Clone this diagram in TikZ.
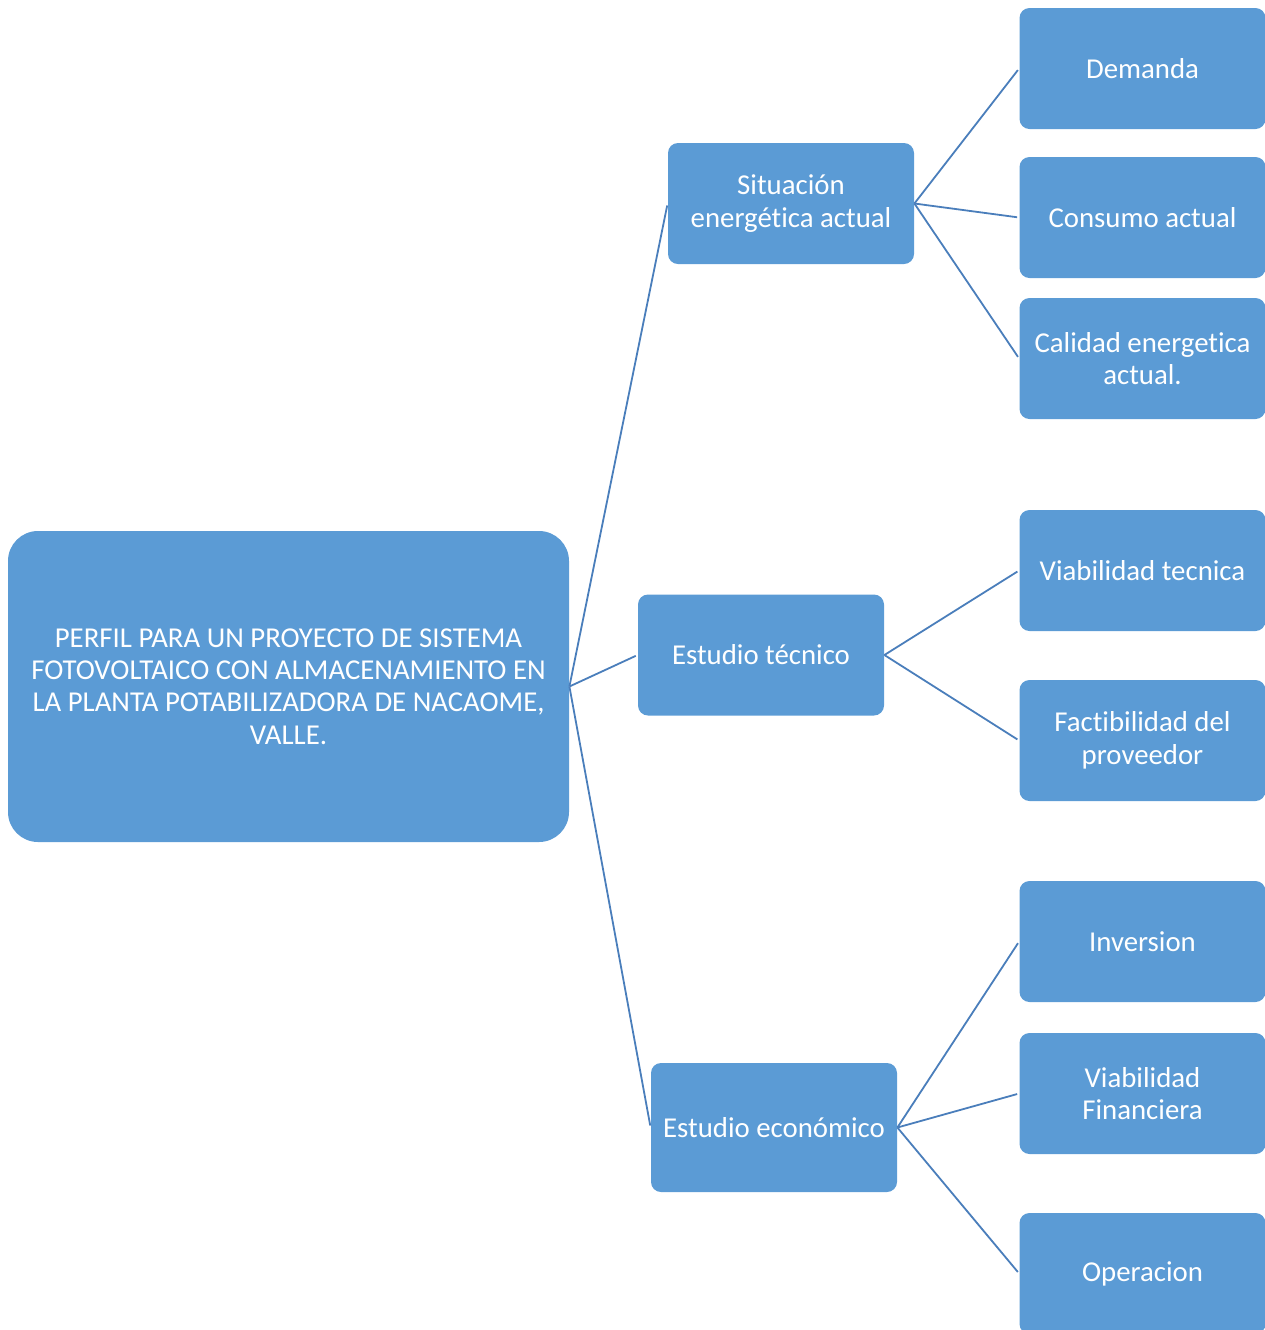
\documentclass[tikz,border=0pt]{standalone}
\usepackage{fontspec}
\setmainfont{Carlito}[Ligatures=NoCommon]
\definecolor{cajaazul}{HTML}{5B9BD5}
\definecolor{lineaazul}{HTML}{4A7EBB}
\begin{document}
\begin{tikzpicture}[x=0.5pt, y=-0.5pt,
    caja/.style={rectangle, fill=cajaazul, text=white, rounded corners=5pt, align=center,
        minimum width=123pt, minimum height=60.5pt, inner sep=2pt,
        font=\fontsize{14.4}{16.2}\selectfont},
    rama/.style={draw=lineaazul, line width=0.9pt, shorten >=1pt}]
    \useasboundingbox (0,0) rectangle (1265,1330);

    \node (raiz) [caja, rounded corners=15pt, minimum width=280.5pt, minimum height=155.5pt] at (288.5,686.5)
        {PERFIL PARA UN PROYECTO DE SISTEMA\\FOTOVOLTAICO CON ALMACENAMIENTO EN\\LA PLANTA POTABILIZADORA DE NACAOME,\\VALLE.};

    \node (situacion) [caja] at (791,203.5) {Situación\\energética actual};
    \node (tecnico) [caja] at (761,655) {Estudio técnico};
    \node (economico) [caja, minimum height=64.5pt] at (774,1127.5) {Estudio económico};

    \node (demanda) [caja] at (1142.5,68.5) {Demanda};
    \node (consumo) [caja] at (1142.5,217.5) {Consumo actual};
    \node (calidad) [caja] at (1142.5,358.5) {Calidad energetica\\actual.};
    \node (vtecnica) [caja] at (1142.5,570.5) {Viabilidad tecnica};
    \node (factibilidad) [caja] at (1142.5,740.5) {Factibilidad del\\proveedor};
    \node (inversion) [caja] at (1142.5,941.5) {Inversion};
    \node (vfinanciera) [caja] at (1142.5,1093.5) {Viabilidad\\Financiera};
    \node (operacion) [caja] at (1142.5,1273.5) {Operacion};

    \draw[rama] (raiz.east) -- (situacion.west);
    \draw[rama] (raiz.east) -- (tecnico.west);
    \draw[rama] (raiz.east) -- (economico.west);

    \draw[rama] (situacion.east) -- (demanda.west);
    \draw[rama] (situacion.east) -- (consumo.west);
    \draw[rama] (situacion.east) -- (calidad.west);
    \draw[rama] (tecnico.east) -- (vtecnica.west);
    \draw[rama] (tecnico.east) -- (factibilidad.west);
    \draw[rama] (economico.east) -- (inversion.west);
    \draw[rama] (economico.east) -- (vfinanciera.west);
    \draw[rama] (economico.east) -- (operacion.west);
\end{tikzpicture}
\end{document}
